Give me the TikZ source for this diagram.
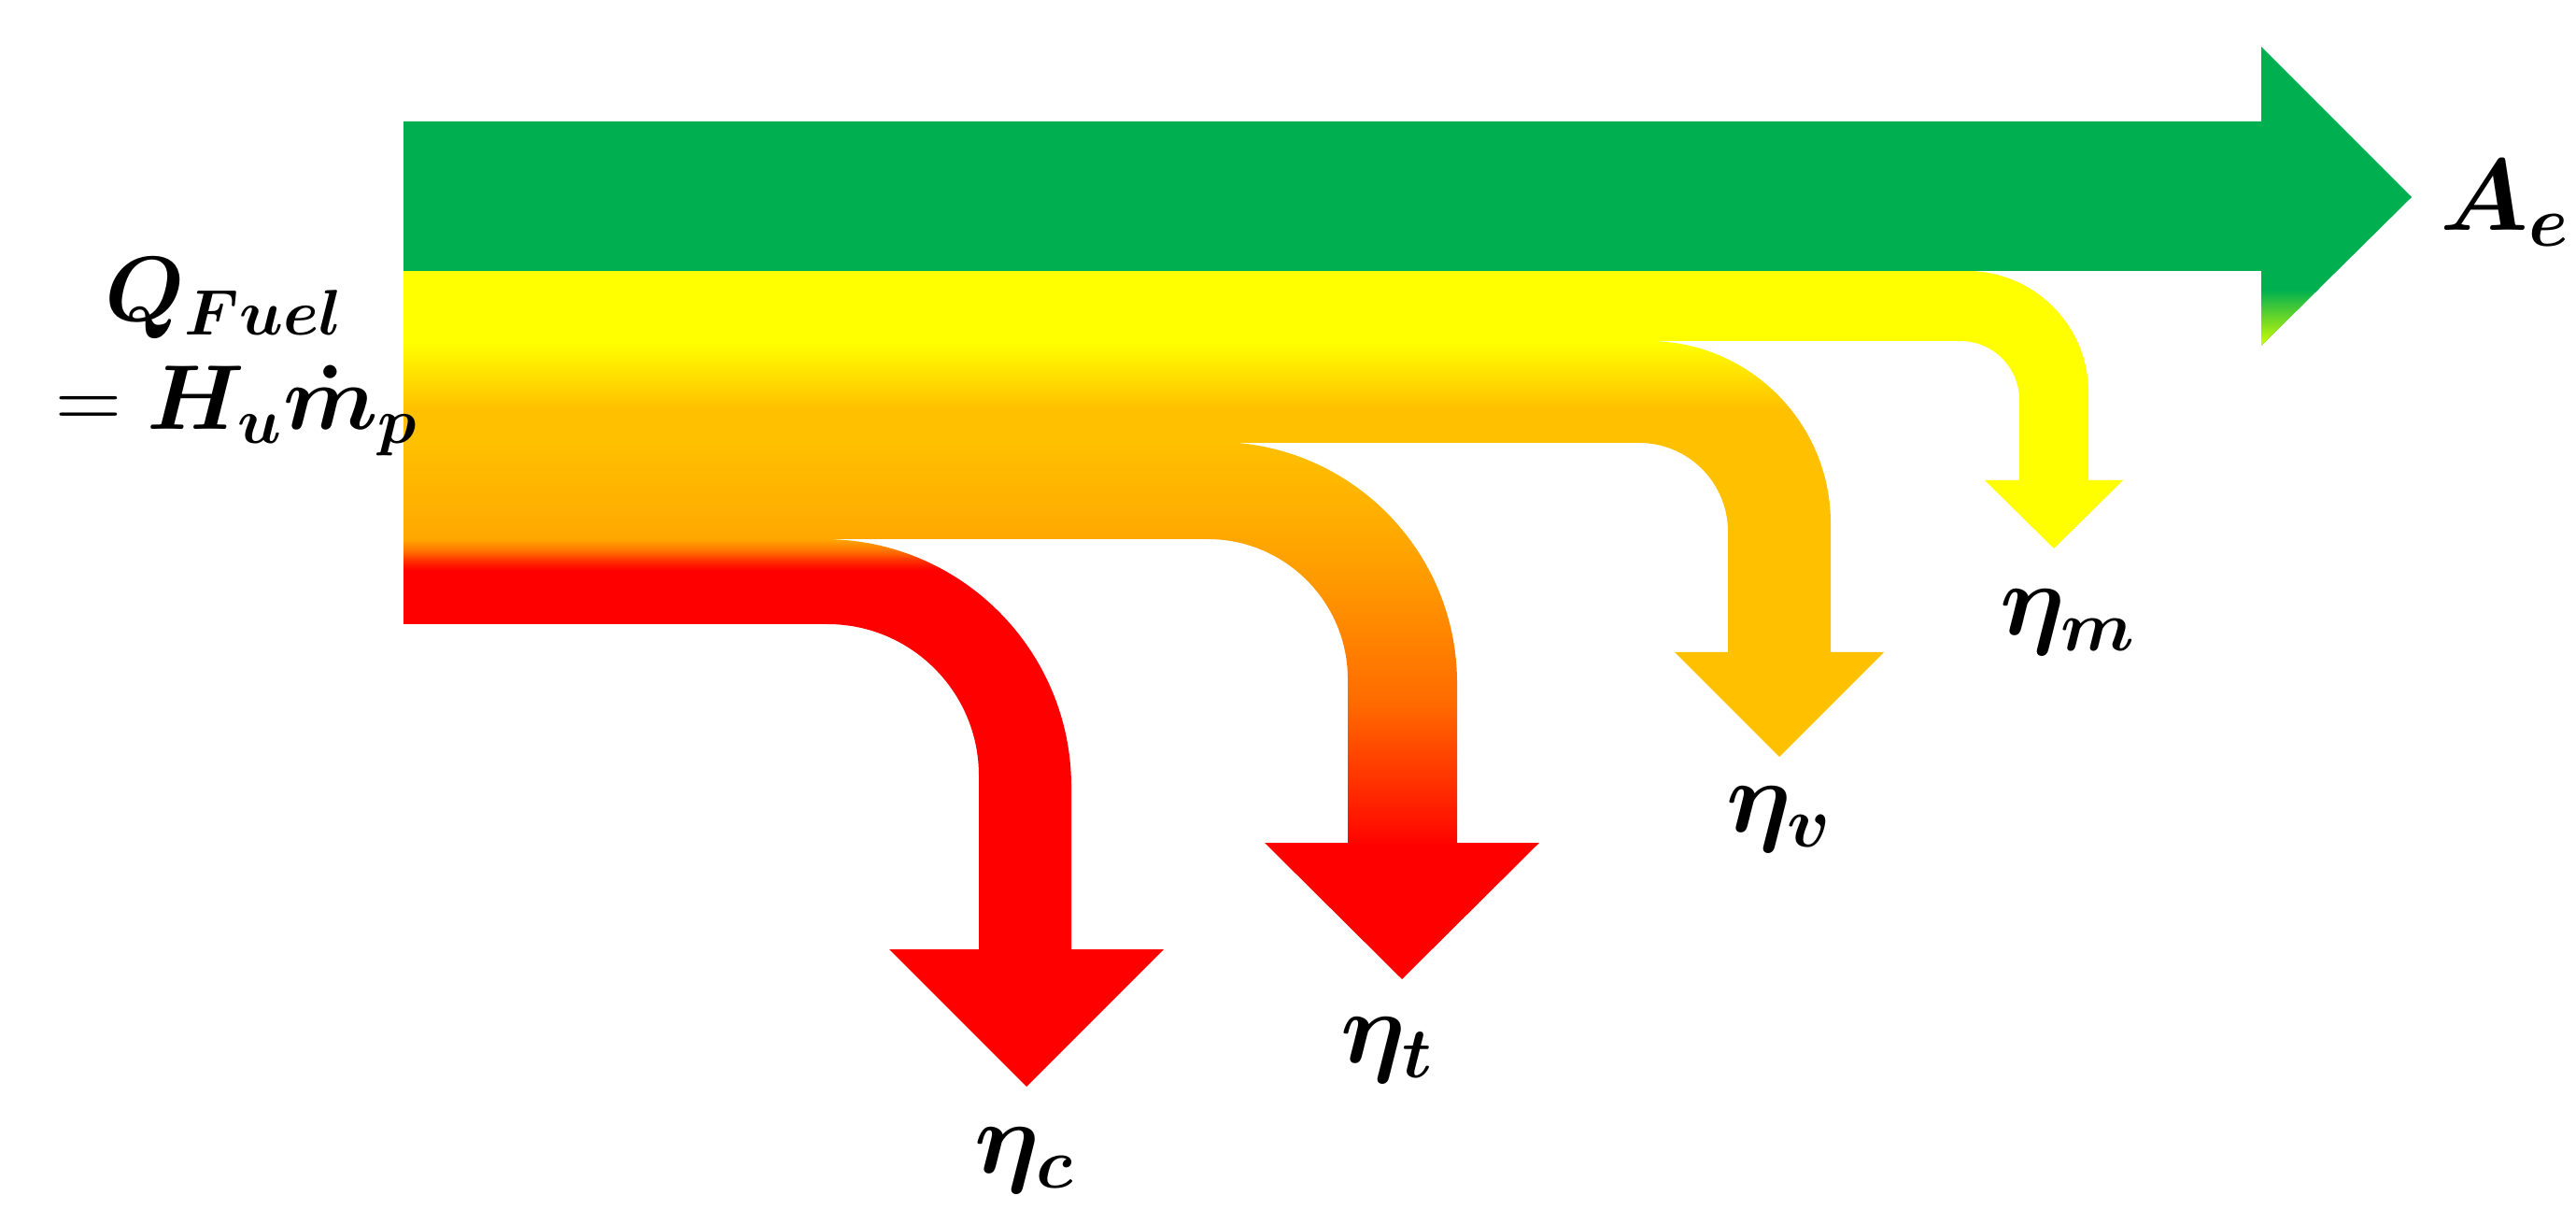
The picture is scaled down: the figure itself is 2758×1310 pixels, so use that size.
\RequirePackage{fix-cm}
\documentclass[tikz,border=0pt]{standalone}
\usepackage{amsmath}
\definecolor{cgreen}{HTML}{00B050}
\definecolor{cgreenb}{HTML}{00CC00}
\definecolor{cgreeny}{HTML}{D8FF00}
\definecolor{cyellow}{HTML}{FFFF00}
\definecolor{camber}{HTML}{FFC000}
\definecolor{cred}{HTML}{FF0000}
\definecolor{tA}{HTML}{FFAE00}
\definecolor{tB}{HTML}{FF9A00}
\definecolor{tC}{HTML}{FF8200}
\definecolor{tD}{HTML}{FF6A00}
\definecolor{tE}{HTML}{FF3D00}
\definecolor{tF}{HTML}{FF1000}
\definecolor{cA}{HTML}{FFA800}
\definecolor{cB}{HTML}{FF7000}
\definecolor{cC}{HTML}{FF3000}
\pgfdeclareverticalshading{shv}{100bp}{color(0bp)=(camber); color(66.67bp)=(camber); color(74.44bp)=(cyellow); color(100bp)=(cyellow)}
\pgfdeclareverticalshading{sht}{100bp}{color(0bp)=(cred); color(37.52bp)=(cred); color(39.08bp)=(tF); color(44.86bp)=(tE); color(50.65bp)=(tD); color(56.35bp)=(tC); color(62.13bp)=(tB); color(67.92bp)=(tA); color(74.83bp)=(camber); color(100bp)=(camber)}
\pgfdeclareverticalshading{shc}{100bp}{color(0bp)=(cred); color(72.03bp)=(cred); color(72.88bp)=(cC); color(73.73bp)=(cB); color(74.83bp)=(cA); color(100bp)=(cA)}
\tikzset{lbl/.style={inner sep=0pt, font=\fontsize{31}{37}\selectfont},
         srclbl/.style={inner sep=0pt, align=center, font=\fontsize{28}{33}\selectfont}}
\begin{document}
\begin{tikzpicture}[x=0.01cm, y=-0.01cm]
\useasboundingbox (0,0) rectangle (2758,1310);
% eta_c branch (red)
\begin{scope}
\clip (432,575) -- (882,575) -- (882,577) arc[start angle=-90, end angle=0, radius=265]
  -- (1147,1016) -- (1246,1016) -- (1099,1163) -- (952,1016) -- (1048,1016)
  -- (1048,830) arc[start angle=0, end angle=-90, radius=162] -- (432,668) -- cycle;
\shade[shading=shc] (430,575) rectangle (1250,1165);
\end{scope}
% eta_t branch (orange to red)
\begin{scope}
\clip (432,471) -- (1302,471) -- (1302,473) arc[start angle=-90, end angle=0, radius=258]
  -- (1560,902) -- (1648,902) -- (1501,1048) -- (1354,902) -- (1443,902)
  -- (1443,727) arc[start angle=0, end angle=-90, radius=150] -- (432,577) -- cycle;
\shade[shading=sht] (430,471) rectangle (1650,1050);
\end{scope}
% eta_v branch (amber)
\begin{scope}
\clip (432,363) -- (1765,363) -- (1765,365) arc[start angle=-90, end angle=0, radius=195]
  -- (1960,698) -- (2017,698) -- (1905,810) -- (1793,698) -- (1850,698)
  -- (1850,569) arc[start angle=0, end angle=-90, radius=95] -- (432,474) -- cycle;
\shade[shading=shv] (430,362) rectangle (2020,812);
\end{scope}
% eta_m branch (yellow)
\fill[cyellow] (432,288) -- (2106,288) -- (2106,290) arc[start angle=-90, end angle=0, radius=130]
  -- (2236,514) -- (2273,514) -- (2199,587) -- (2125,514) -- (2162,514)
  -- (2162,428) arc[start angle=0, end angle=-90, radius=63] -- (432,365) -- cycle;
% A_e arrow (green)
\fill[cgreen] (432,130) -- (2421,130) -- (2421,50) -- (2582,211) -- (2421,370) -- (2421,290) -- (432,290) -- cycle;
\begin{scope}
\clip (2421,290) -- (2421,370) -- (2582,211) -- cycle;
\shade[top color=cgreen, middle color=cgreenb, bottom color=cgreeny] (2419,310) rectangle (2520,372);
\end{scope}
% labels
\node[srclbl, anchor=base] (qfuel) at (240,460) {$\boldsymbol{Q_{Fuel}}$\\ ${}=\boldsymbol{H_u\dot{m}_p}$};
\node[lbl, anchor=base west] (ae) at (2612,247) {$\boldsymbol{A_e}$};
\node[lbl, anchor=base] (etac) at (1097,1255) {$\boldsymbol{\eta_c}$};
\node[lbl, anchor=base] (etat) at (1485,1137) {$\boldsymbol{\eta_t}$};
\node[lbl, anchor=base] (etav) at (1905,890) {$\boldsymbol{\eta_v}$};
\node[lbl, anchor=base] (etam) at (2214,680) {$\boldsymbol{\eta_m}$};
\end{tikzpicture}
\end{document}
